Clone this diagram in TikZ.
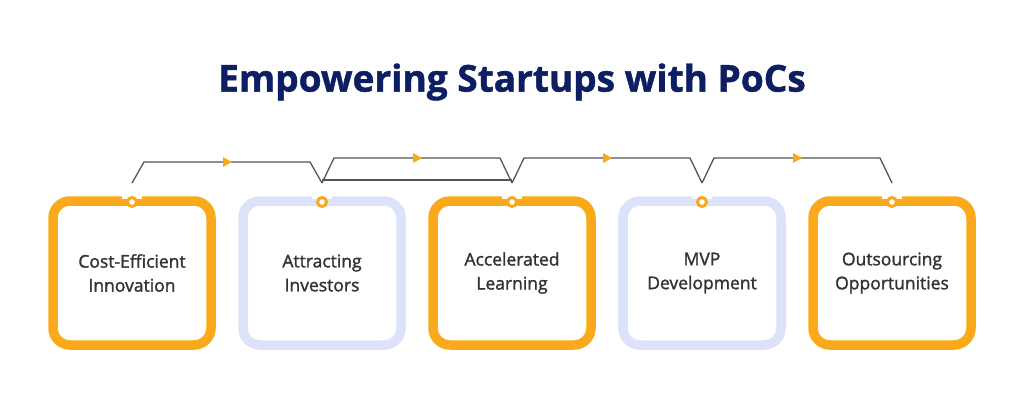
\documentclass[tikz,border=0pt]{standalone}
\usepackage{fontspec}
\setmainfont{Open Sans}
\newfontfamily\cardfont{Open Sans}[UprightFeatures={FakeBold=1.6}]
\newfontfamily\titlefont{Open Sans}[BoldFeatures={FakeBold=1.2}]
\usetikzlibrary{decorations.markings,arrows.meta,calc}
\definecolor{ora}{HTML}{F9A919}
\definecolor{lav}{HTML}{DCE2FA}
\definecolor{navy}{HTML}{0E1E62}
\definecolor{txt}{HTML}{333333}
\definecolor{lin}{HTML}{555555}
\tikzset{
  card/.style={rectangle, rounded corners=17pt, fill=white, line width=9.5pt,
    minimum width=158pt, minimum height=144pt, inner sep=0pt, align=center,
    font=\cardfont\fontsize{17.5}{24}\selectfont, text=txt},
  orcard/.style={card, draw=ora},
  lvcard/.style={card, draw=lav},
  tab/.style={rectangle, fill=white, minimum width=20pt, minimum height=15pt, inner sep=0pt},
  ring/.style={circle, draw=ora, fill=white, line width=3pt, minimum size=9pt, inner sep=0pt},
  conn/.style={draw=lin, line width=1.3pt},
  midarrow/.style={postaction={decorate}, decoration={markings,
    mark=at position 0.5 with {\fill[ora] (-4pt,-5pt) -- (5pt,0pt) -- (-4pt,5pt) -- cycle;}}}
}
\begin{document}
\begin{tikzpicture}[x=1pt,y=-1pt]
\useasboundingbox (0,0) rectangle (1024,410);
\fill[white] (0,0) rectangle (1024,410);
\node[font=\titlefont\bfseries\fontsize{37}{40}\selectfont, text=navy] (title) at (512,82) {Empowering Startups with PoCs};
\node[orcard] (b1) at (132,273) {Cost-Efficient\\Innovation};
\node[lvcard] (b2) at (322,273) {Attracting\\Investors};
\node[orcard] (b3) at (512,273) {Accelerated\\Learning};
\node[lvcard] (b4) at (702,273) {MVP\\Development};
\node[orcard] (b5) at (892,273) {Outsourcing\\Opportunities};
\foreach \i/\x in {1/132,2/322,3/512,4/702,5/892}{
  \node[tab] (tab\i) at (\x,191) {};
  \node[ring] (r\i) at (\x,202) {};
  \coordinate (t\i) at (\x,183);
}
\draw[conn, midarrow] (t1) -- ++(12,-21) -- ($(t2)+(-12,-21)$) -- (t2);
\draw[conn, midarrow] (t2) -- ++(12,-25) -- ($(t3)+(-12,-25)$) -- (t3);
\draw[conn, midarrow] (t3) -- ++(12,-25) -- ($(t4)+(-12,-25)$) -- (t4);
\draw[conn, midarrow] (t4) -- ++(12,-25) -- ($(t5)+(-12,-25)$) -- (t5);
\draw[conn] ([yshift=3pt]t2) -- ([yshift=3pt]t3);
\end{tikzpicture}
\end{document}
